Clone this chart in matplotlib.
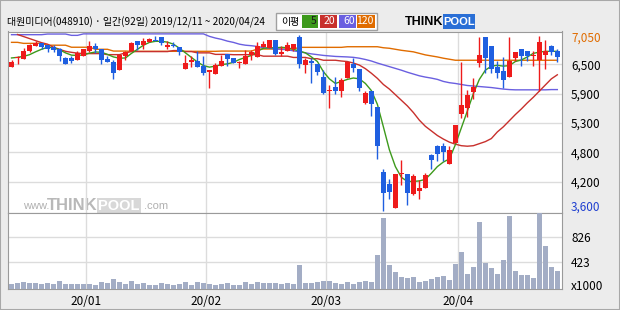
import numpy as np
import matplotlib
matplotlib.use("Agg")
import matplotlib.pyplot as plt
from matplotlib.patches import Rectangle

plt.rcParams['font.family'] = ['Noto Sans CJK KR', 'DejaVu Sans']

title = '대원미디어(048910) · 일간(92일) 2019/12/11 ~ 2020/04/24'

# daily candles, 2019/12/11 ~ 2020/04/24 (92 trading days)
opens = [6429, 6600, 6586, 6736, 6841, 6893, 6847, 6808, 6775, 6599,
         6599, 6553, 6631, 6736, 6834, 6775, 6586, 6527, 6370, 6645,
         6730, 6926, 6847, 6912, 6958, 7004, 6814, 6860, 6821, 6390,
         6514, 6547, 6442, 6318, 6292, 6449, 6677, 6599, 6501, 6488,
         6651, 6618, 6814, 6801, 6952, 6684, 6743, 6782, 7010, 6468,
         6547, 6481, 6226, 5945, 6024, 5959, 6207, 6488, 6383, 5717,
         5959, 5638, 4365, 4129, 3659, 4325, 4325, 3940, 3999, 4051,
         4704, 4868, 4868, 4528, 4927, 5501, 5619, 5932, 6501, 7004,
         6827, 6416, 6351, 6226, 6599, 6775, 6730, 6645, 6566, 6664,
         6827, 6730]
highs = [6560, 6638, 6795, 6873, 6926, 6899, 6860, 6847, 6795, 6612,
         6631, 6730, 6775, 6926, 6893, 6775, 6638, 6553, 6664, 6743,
         6912, 6926, 6991, 6991, 7030, 7004, 6939, 6912, 6821, 6664,
         6631, 6730, 6631, 6370, 6501, 6664, 6677, 6599, 6547, 6749,
         6756, 6912, 6926, 6952, 6952, 6827, 6906, 6873, 7050, 6599,
         6599, 6481, 6357, 6076, 6226, 6207, 6514, 6599, 6383, 5945,
         5959, 5638, 4423, 4227, 4325, 4593, 4325, 4325, 4214, 4345,
         4724, 4900, 4933, 4868, 5286, 6514, 5965, 6207, 7004, 7004,
         6827, 6533, 6612, 7010, 6717, 6775, 6730, 6730, 7040, 6958,
         6847, 6775]
lows = [6429, 6488, 6586, 6723, 6841, 6782, 6723, 6717, 6547, 6488,
        6507, 6553, 6631, 6717, 6697, 6488, 6527, 6194, 6370, 6566,
        6730, 6749, 6782, 6912, 6926, 6860, 6782, 6808, 6664, 6390,
        6429, 6429, 6272, 6011, 6292, 6449, 6436, 6501, 6409, 6488,
        6553, 6618, 6814, 6801, 6664, 6631, 6730, 6743, 6403, 6305,
        6109, 6272, 5900, 5619, 5900, 5841, 6207, 6324, 5959, 5697,
        5469, 4626, 3600, 3842, 3659, 4116, 3711, 3920, 3842, 4051,
        4430, 4574, 4574, 4528, 4927, 5423, 5443, 5802, 6416, 6305,
        6305, 6207, 6011, 6226, 6533, 6436, 6533, 6436, 5945, 6390,
        6664, 6514]
closes = [6527, 6610, 6736, 6847, 6899, 6821, 6782, 6762, 6631, 6488,
          6547, 6690, 6775, 6841, 6775, 6560, 6527, 6311, 6664, 6710,
          6899, 6860, 6926, 6971, 6926, 6893, 6847, 6828, 6717, 6501,
          6553, 6429, 6305, 6370, 6462, 6540, 6586, 6501, 6514, 6638,
          6723, 6827, 6880, 6952, 6684, 6717, 6854, 6873, 6488, 6560,
          6507, 6324, 5913, 5965, 5952, 6174, 6514, 6403, 6011, 5913,
          5697, 4881, 3960, 3973, 4325, 4345, 3960, 4280, 4051, 4306,
          4593, 4724, 4757, 4796, 5286, 5671, 5867, 6024, 6651, 6599,
          6383, 6305, 6174, 6533, 6717, 6645, 6645, 6664, 6912, 6730,
          6717, 6612]

# moving averages as printed on the chart
ma5 = [6600, 6612, 6631, 6664, 6720, 6770, 6810, 6800, 6760, 6700,
       6655, 6650, 6660, 6695, 6717, 6712, 6670, 6620, 6595, 6600,
       6690, 6770, 6850, 6905, 6926, 6926, 6910, 6870, 6790, 6700,
       6610, 6520, 6450, 6420, 6440, 6470, 6485, 6514, 6570, 6610,
       6650, 6730, 6790, 6800, 6800, 6808, 6800, 6770, 6735, 6700,
       6620, 6530, 6330, 6190, 6100, 6140, 6180, 6207, 6190, 6100,
       5960, 5690, 5250, 4800, 4470, 4260, 4180, 4180, 4190, 4220,
       4340, 4470, 4560, 4620, 4900, 5230, 5560, 5900, 6180, 6360,
       6440, 6455, 6440, 6450, 6530, 6560, 6620, 6690, 6715, 6730,
       6730, 6730]
ma20 = [None, 7060, 7020, 6980, 6940, 6900, 6870, 6810, 6770, 6730,
        6710, 6695, 6685, 6685, 6685, 6685, 6665, 6665, 6665, 6700,
        6725, 6725, 6725, 6725, 6725, 6725, 6725, 6745, 6745, 6725,
        6725, 6700, 6700, 6700, 6670, 6670, 6670, 6664, 6664, 6664,
        6664, 6664, 6635, 6635, 6635, 6635, 6635, 6610, 6610, 6610,
        6585, 6585, 6555, 6555, 6555, 6540, 6530, 6500, 6460, 6390,
        6300, 6200, 6080, 5990, 5880, 5770, 5660, 5530, 5380, 5260,
        5170, 5080, 5010, 4950, 4910, 4880, 4870, 4880, 4920, 4960,
        5020, 5150, 5250, 5370, 5490, 5600, 5720, 5830, 5950, 6070,
        6190, 6270]
ma60 = [7056, 7056, 7056, 7056, 7056, 7056, 7069, 7069, 7069, 7069,
        7043, 7043, 7072, 7072, 7072, 7072, 7072, 7072, 7072, 7072,
        7072, 7072, 7072, 7072, 7072, 7072, 7072, 7072, 7072, 7072,
        7072, 7072, 7072, 7023, 6990, 6965, 6930, 6905, 6870, 6850,
        6840, 6825, 6800, 6790, 6780, 6770, 6760, 6740, 6720, 6700,
        6680, 6665, 6650, 6640, 6630, 6625, 6620, 6612, 6595, 6570,
        6540, 6500, 6465, 6430, 6395, 6360, 6320, 6285, 6250, 6225,
        6205, 6180, 6140, 6115, 6100, 6080, 6060, 6050, 6040, 6030,
        6020, 6005, 5990, 5980, 5975, 5975, 5975, 5975, 5975, 5975,
        5980, 5980]
ma120 = [6906, 6906, 6886, 6886, 6886, 6886, 6850, 6850, 6850, 6850,
         6810, 6810, 6810, 6810, 6770, 6770, 6770, 6735, 6735, 6735,
         6730, 6730, 6730, 6730, 6730, 6730, 6730, 6730, 6730, 6730,
         6730, 6730, 6730, 6730, 6730, 6735, 6735, 6735, 6735, 6735,
         6735, 6775, 6775, 6775, 6775, 6775, 6775, 6775, 6808, 6808,
         6808, 6808, 6808, 6808, 6808, 6808, 6820, 6820, 6820, 6820,
         6820, 6820, 6800, 6790, 6770, 6750, 6735, 6720, 6690, 6660,
         6640, 6620, 6595, 6575, 6555, 6555, 6555, 6555, 6555, 6555,
         6555, 6555, 6555, 6555, 6555, 6555, 6555, 6555, 6555, 6555,
         6555, 6555]

# volume, x1000 shares
volume = [70, 86, 103, 86, 86, 70, 86, 70, 119, 70,
          70, 70, 70, 70, 54, 103, 86, 151, 103, 70,
          119, 70, 86, 54, 54, 86, 70, 54, 70, 103,
          54, 103, 86, 70, 54, 70, 86, 54, 54, 103,
          70, 103, 86, 86, 86, 70, 86, 70, 378, 86,
          86, 103, 119, 119, 86, 70, 103, 70, 103, 119,
          103, 540, 1123, 378, 265, 184, 167, 184, 103, 119,
          151, 184, 200, 135, 394, 589, 232, 346, 1058, 410,
          329, 232, 459, 1156, 281, 216, 216, 167, 1204, 670,
          346, 281]
vol_ticks = [423, 826]

month_starts = [13, 33, 53, 75]
month_labels = ['20/01', '20/02', '20/03', '20/04']

ma_names = ['5', '20', '60', '120']
ma_colors = ['#3d9a1c', '#c8302c', '#6a5fe0', '#e06c00']

W, H = 620, 310


def box(l, t, r, b):
    return [l / W, 1 - b / H, (r - l) / W, (b - t) / H]


fig = plt.figure(figsize=(6.2, 3.1), dpi=100, facecolor='#ececec')
ax = fig.add_axes(box(7.5, 31.5, 562, 212.5))
axv = fig.add_axes(box(7.5, 212.5, 562, 288.5), sharex=ax)

x = np.arange(len(closes))
o, h, l, c = (np.array(v, dtype=float) for v in (opens, highs, lows, closes))
col = np.where(c >= o, '#ee1b1b', '#1f5fe0')

for vals, color in zip([ma120, ma60, ma20, ma5], ma_colors[::-1]):
    ax.plot(x, np.array(vals, dtype=float), color=color, lw=1, zorder=2)

ax.vlines(x, l, h, colors=col, lw=1, zorder=3)
ax.bar(x, np.maximum(np.abs(c - o), 20), bottom=np.minimum(o, c),
       width=0.75, color=col, zorder=4)

lo, hi = l.min(), h.max()
ax.set_ylim(lo - 1.5 * 19.6, hi + 3.5 * 19.6)
ax.set_xlim(-0.67, 91.78)
ticks = np.linspace(lo, hi, 7)[1:-1]
ax.set_yticks(ticks)
ax.set_yticklabels([f"{round(t, -2):,.0f}" for t in ticks])
ax.yaxis.tick_right()
ax.tick_params(axis='y', length=0, pad=6.5, labelsize=8.5)
ax.tick_params(axis='x', length=0, labelbottom=False)
ax.set_xticks([m - 0.5 for m in month_starts])
ax.grid(True, color='#dcdcdc', lw=1, zorder=0)
ax.set_facecolor('white')

ax.annotate(f"{hi:,.0f}", (1, hi), xycoords=ax.get_yaxis_transform(),
            xytext=(6.5, -2.2), textcoords='offset points', va='center',
            color='#e06c00', fontsize=8.5, annotation_clip=False)
ax.annotate(f"{lo:,.0f}", (1, lo), xycoords=ax.get_yaxis_transform(),
            xytext=(6.5, 2.9), textcoords='offset points', va='center',
            color='#1f3fd0', fontsize=8.5, annotation_clip=False)

# watermark
wm = dict(transform=ax.transAxes, family='Liberation Sans', zorder=1,
          va='baseline')
ax.text(0.028, 0.02, 'www.', color='#b0b0b0', fontsize=8, **wm)
ax.text(0.071, 0.014, 'THINK', color='#b8b8b8', fontsize=12,
        weight='bold', **wm)
ax.text(0.163, 0.014, 'POOL', color='white', fontsize=10.5, weight='bold',
        bbox=dict(boxstyle='square,pad=0.08', fc='#d8d8d8', ec='none'), **wm)
ax.text(0.246, 0.02, '.com', color='#b0b0b0', fontsize=8, **wm)

axv.bar(x, volume, width=0.75, color='#a3adc5', zorder=3)
axv.set_ylim(0, 1212)
axv.set_yticks(vol_ticks)
axv.set_yticklabels([str(v) for v in vol_ticks])
axv.yaxis.tick_right()
axv.tick_params(axis='y', length=0, pad=6.5, labelsize=8.5)
axv.set_xticks([m - 0.5 for m in month_starts])
axv.set_xticklabels(month_labels)
axv.tick_params(axis='x', length=0, pad=4.5, labelsize=8.5)
axv.grid(True, color='#dcdcdc', lw=1, zorder=0)
axv.set_facecolor('white')
axv.annotate('x1000', (1, 0), xycoords=axv.get_yaxis_transform(),
             xytext=(6.5, 1.5), textcoords='offset points', va='center',
             fontsize=8.5, annotation_clip=False)

for a in (ax, axv):
    for s in a.spines.values():
        s.set_color('#9a9a9a')

# header
fig.text(7 / W, 1 - 22 / H, title, fontsize=7.2, va='center')
fig.patches.append(Rectangle((276 / W, 1 - 29.5 / H), 101 / W, 17 / H,
                             transform=fig.transFigure, fc='white',
                             ec='#a0a0a0', lw=1))
fig.text(281 / W, 1 - 21.5 / H, '이평', fontsize=7.2, va='center')
lx = [302, 320, 339, 357]
lw_ = [16, 17, 17, 18]
for name, color, x0, w0 in zip(ma_names, ma_colors, lx, lw_):
    fig.patches.append(Rectangle((x0 / W, 1 - 28 / H), w0 / W, 13 / H,
                                 transform=fig.transFigure, fc=color, ec='none'))
    fig.text((x0 + w0 - 1.5) / W, 1 - 21.5 / H, name, fontsize=7.5,
             ha='right', va='center',
             color='#1a1a1a' if name == '5' else 'white')

# logo
fig.text(405 / W, 1 - 22 / H, 'THINK', fontsize=9, weight='bold',
         family='Liberation Sans', va='center')
fig.patches.append(Rectangle((443 / W, 1 - 29 / H), 32 / W, 15 / H,
                             transform=fig.transFigure, fc='#2a6fd6', ec='none'))
fig.text(459 / W, 1 - 22 / H, 'POOL', fontsize=8, weight='bold',
         family='Liberation Sans', va='center', ha='center', color='white')

fig.patches.append(Rectangle((0, 0), 1, 1, transform=fig.transFigure,
                             fill=False, ec='#a8a8a8', lw=1.5))

fig.savefig('out.png', dpi=100, facecolor=fig.get_facecolor())
